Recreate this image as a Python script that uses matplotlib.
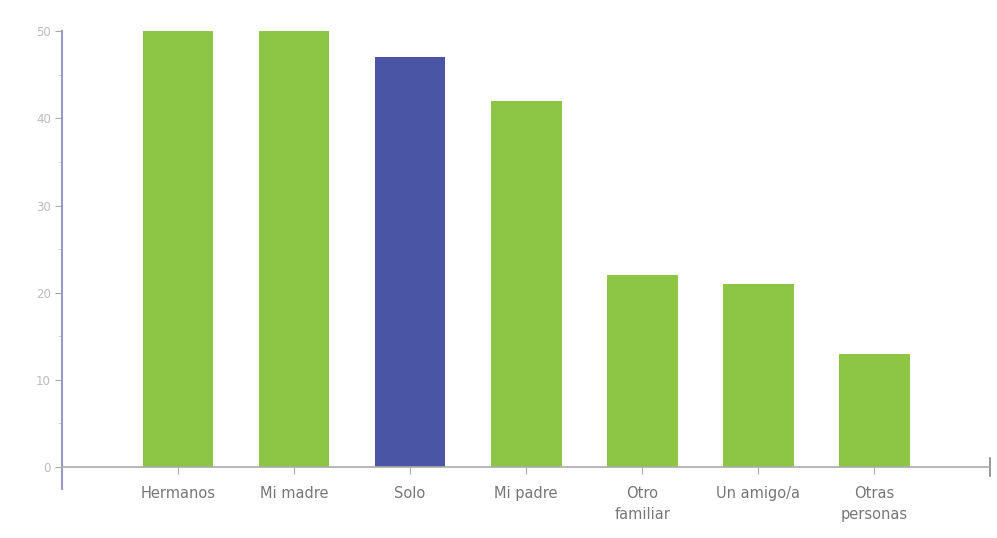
import matplotlib
matplotlib.use("Agg")
import matplotlib.pyplot as plt
from matplotlib.ticker import MultipleLocator

categories = ["Hermanos", "Mi madre", "Solo", "Mi padre", "Otro\nfamiliar", "Un amigo/a", "Otras\npersonas"]
values = [50, 50, 47, 42, 22, 21, 13]
colors = ["#8dc645", "#8dc645", "#4b55a6", "#8dc645", "#8dc645", "#8dc645", "#8dc645"]
yticks = [0, 10, 20, 30, 40, 50]

fig = plt.figure(figsize=(9.97, 5.38), dpi=100)
ax = fig.add_axes([0.0622, 0.132, 0.931, 0.810])

x = list(range(len(categories)))
ax.bar(x, values, width=0.61, color=colors, zorder=2)

ax.set_xlim(-1, 7)
ax.set_ylim(0, 50)
ax.set_xticks(x)
ax.set_xticklabels(categories, fontsize=10.5, color="#777777", linespacing=1.5)
ax.set_yticks(yticks)
ax.set_yticklabels([str(v) for v in yticks], fontsize=8.5, color="#bbbbbb")
ax.yaxis.set_minor_locator(MultipleLocator(5))

for s in ["top", "right"]:
    ax.spines[s].set_visible(False)
ax.spines["left"].set_color("#9a9ac8")
ax.spines["left"].set_linewidth(1.5)
ax.spines["left"].set_bounds(-2.5, 50)
ax.spines["bottom"].set_color("#aaaaaa")
ax.spines["bottom"].set_linewidth(1.2)

ax.tick_params(axis="y", which="major", length=5, color="#aaaaaa", pad=3)
ax.tick_params(axis="y", which="minor", length=3, color="#cccccc")
ax.tick_params(axis="x", length=5, color="#aaaaaa", pad=9)
ax.axvline(7, ymin=-0.02, ymax=0.02, color="#888888", lw=1.2, clip_on=False)

fig.savefig("out.png", dpi=100)
